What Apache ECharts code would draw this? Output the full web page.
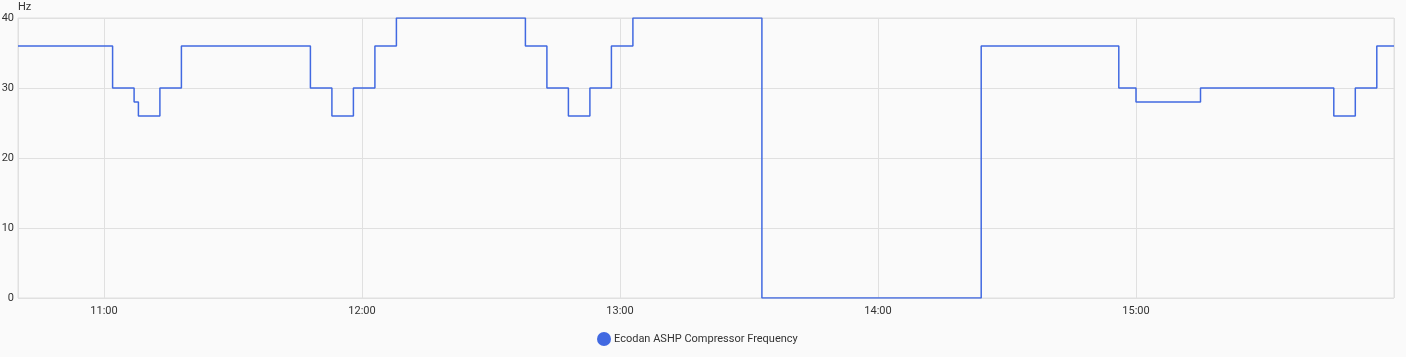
<!DOCTYPE html>
<html>
<head>
<meta charset="utf-8">
<style>
html,body{margin:0;padding:0;background:#fafafa;}
#chart{width:1406px;height:357px;}
</style>
<script src="https://cdn.jsdelivr.net/npm/echarts@6/dist/echarts.min.js"></script>
</head>
<body>
<div id="chart"></div>
<script>
// Step change times (HH:MM) and the value held from that time on
const times = ['10:40','11:02','11:07','11:08','11:13','11:18','11:48','11:53','11:58','12:03','12:08','12:38','12:43','12:48','12:53','12:58','13:03','13:33','14:24','14:56','15:00','15:15','15:46','15:51','15:56','16:00'];
const values = [36,30,28,26,30,36,30,26,30,36,40,36,30,26,30,36,40,0,36,30,28,30,26,30,36,36];
const seriesName = 'Ecodan ASHP Compressor Frequency';
const yTicks = [0,10,20,30,40];

function ts(hm){ const [h,m]=hm.split(':').map(Number); return new Date(2024,0,1,h,m,0).getTime(); }
const data = times.map((t,i)=>[ts(t), values[i]]);

const chart = echarts.init(document.getElementById('chart'));
chart.setOption({
  backgroundColor:'#fafafa',
  animation:false,
  textStyle:{fontFamily:'Roboto'},
  grid:{left:18,right:12,top:18,bottom:59,containLabel:false,outerBoundsMode:'none',show:true,borderColor:'#e0e0e0',borderWidth:1},
  legend:{bottom:6,left:592,icon:'circle',itemWidth:14,itemHeight:14,itemGap:8,
    textStyle:{color:'#333',fontSize:11,fontFamily:'Roboto',padding:[0,0,0,-2]},data:[seriesName]},
  xAxis:{type:'time',min:ts(times[0]),max:ts(times[times.length-1]),interval:3600000,
    axisLine:{show:false},axisTick:{show:false},
    splitLine:{show:true,lineStyle:{color:'#e0e0e0'}},
    axisLabel:{color:'#333',fontSize:11,margin:8,formatter:'{HH}:{mm}',showMinLabel:false,showMaxLabel:false}},
  yAxis:{type:'value',min:yTicks[0],max:yTicks[yTicks.length-1],interval:10,name:'Hz',
    nameGap:5,nameTextStyle:{color:'#333',fontSize:11,align:'left'},
    axisLine:{show:false},axisTick:{show:false},
    splitLine:{lineStyle:{color:'#e0e0e0'}},
    axisLabel:{color:'#333',fontSize:11,margin:4}},
  series:[{name:seriesName,type:'line',step:'end',data:data,showSymbol:false,
    lineStyle:{color:'#4169e1',width:1.5},itemStyle:{color:'#4169e1'}}]
});
</script>
</body>
</html>
